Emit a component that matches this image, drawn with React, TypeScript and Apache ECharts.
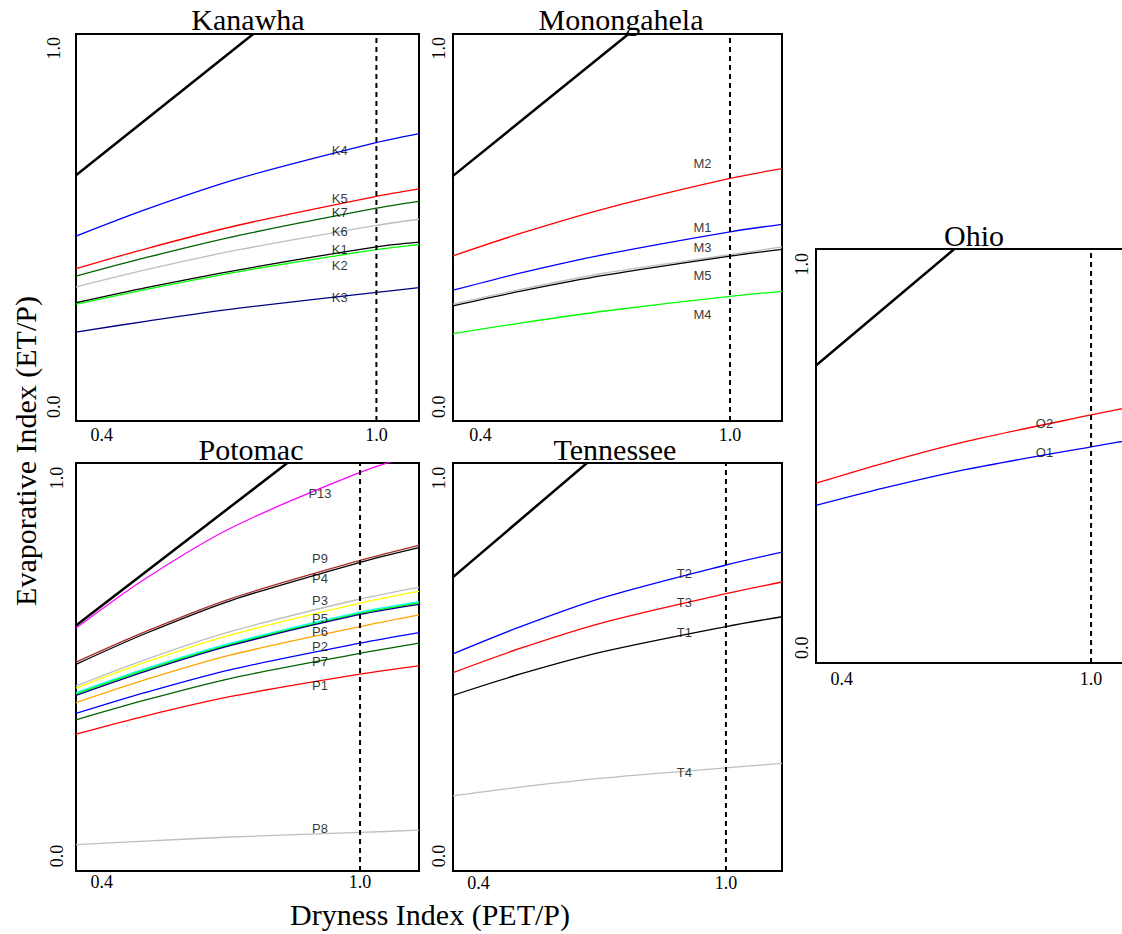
import React, { useEffect, useRef } from "react";
import * as echarts from "echarts";

// ---------- data ----------
const PANEL_TITLES = ["Kanawha", "Monongahela", "Ohio", "Potomac", "Tennessee"];
const X_TICKS = [0.4, 1.0];
const Y_TICKS = [0.0, 1.0];
const Y_MIN = -0.04;
const Y_MAX = 1.04;
const DASH_X = 1.0;
const X_AXIS_RANGES = [
  [0.344, 1.093],
  [0.334, 1.125],
  [0.338, 1.125],
  [0.34, 1.137],
  [0.338, 1.136],
];

// energy-limit line (start, crossing of the upper frame)
const LIMIT_LINES = [
  [[0.344, 0.646], [0.731, 1.04]],
  [[0.334, 0.644], [0.756, 1.04]],
  [[0.338, 0.736], [0.671, 1.04]],
  [[0.34, 0.61], [0.831, 1.04]],
  [[0.338, 0.738], [0.663, 1.04]],
];

// Kanawha
const kanawhaX = [0.344, 0.5, 0.7, 1.0, 1.093];
const kanawhaNames = ["K4", "K5", "K7", "K6", "K1", "K2", "K3"];
const kanawhaY = [
  [0.476, 0.552, 0.637, 0.737, 0.762],
  [0.385, 0.442, 0.507, 0.587, 0.608],
  [0.364, 0.417, 0.478, 0.554, 0.573],
  [0.334, 0.383, 0.438, 0.506, 0.523],
  [0.29, 0.333, 0.382, 0.446, 0.459],
  [0.286, 0.328, 0.377, 0.438, 0.452],
  [0.208, 0.239, 0.275, 0.319, 0.332],
];
const kanawhaLabelX = 0.92;
const kanawhaLabelY = [0.716, 0.582, 0.542, 0.489, 0.438, 0.395, 0.306];

// Monongahela
const monoX = [0.334, 0.5, 0.7, 1.0, 1.125];
const monoNames = ["M2", "M1", "M3", "M5", "M4"];
const monoY = [
  [0.421, 0.485, 0.553, 0.637, 0.664],
  [0.325, 0.374, 0.425, 0.488, 0.509],
  [0.286, 0.328, 0.373, 0.424, 0.446],
  [0.281, 0.323, 0.367, 0.42, 0.439],
  [0.204, 0.234, 0.267, 0.308, 0.322],
];
const monoLabelX = 0.934;
const monoLabelY = [0.678, 0.5, 0.444, 0.366, 0.258];

// Ohio
const ohioX = [0.338, 0.5, 0.7, 1.0, 1.125];
const ohioNames = ["O2", "O1"];
const ohioY = [
  [0.429, 0.481, 0.538, 0.607, 0.634],
  [0.371, 0.416, 0.465, 0.524, 0.547],
];
const ohioLabelX = 0.888;
const ohioLabelY = [0.585, 0.51];

// Potomac
const potomacX = [0.34, 0.5, 0.7, 1.0, 1.137];
const potomacNames = ["P13", "P9", "P4", "P3", "P10", "P5", "P11", "P12", "P6", "P2", "P7", "P1", "P8"];
const potomacY = [
  [0.603, 0.733, 0.868, 1.015, 1.066],
  [0.513, 0.593, 0.681, 0.782, 0.822],
  [0.507, 0.588, 0.676, 0.777, 0.816],
  [0.45, 0.519, 0.594, 0.68, 0.711],
  [0.444, 0.512, 0.585, 0.669, 0.7],
  [0.432, 0.495, 0.563, 0.645, 0.673],
  [0.429, 0.492, 0.56, 0.642, 0.67],
  [0.425, 0.488, 0.557, 0.639, 0.666],
  [0.406, 0.466, 0.532, 0.607, 0.638],
  [0.377, 0.432, 0.493, 0.563, 0.591],
  [0.36, 0.412, 0.47, 0.536, 0.563],
  [0.322, 0.37, 0.422, 0.481, 0.503],
  [0.03, 0.039, 0.05, 0.062, 0.068],
];
const potomacLabelX = 0.907;
const potomacLabelNames = ["P13", "P9", "P4", "P3", "P5", "P6", "P2", "P7", "P1", "P8"];
const potomacLabelY = [0.959, 0.786, 0.733, 0.675, 0.629, 0.594, 0.554, 0.514, 0.452, 0.072];

// Tennessee
const tennX = [0.338, 0.5, 0.7, 1.0, 1.136];
const tennNames = ["T2", "T3", "T1", "T4"];
const tennY = [
  [0.535, 0.606, 0.683, 0.77, 0.804],
  [0.485, 0.549, 0.617, 0.694, 0.725],
  [0.425, 0.481, 0.54, 0.607, 0.633],
  [0.159, 0.182, 0.206, 0.233, 0.245],
];
const tennLabelX = 0.899;
const tennLabelY = [0.748, 0.672, 0.591, 0.221];

// ---------- styles ----------
const kanawhaColors = ["#0000ff", "#ff0000", "#006400", "#bebebe", "#000000", "#00ff00", "#000080"];
const monoColors = ["#ff0000", "#0000ff", "#bebebe", "#000000", "#00ff00"];
const ohioColors = ["#ff0000", "#0000ff"];
const potomacColors = [
  "#ff00ff", "#a52a2a", "#000000", "#bebebe", "#ffff00", "#00ffff", "#00ff00",
  "#00008b", "#ffa500", "#0000ff", "#006400", "#ff0000", "#bebebe",
];
const tennColors = ["#0000ff", "#ff0000", "#000000", "#bebebe"];

const GRIDS = [
  { left: 76, top: 34, width: 343, height: 387 },
  { left: 453, top: 34, width: 329, height: 387 },
  { left: 816, top: 249, width: 327, height: 414 },
  { left: 76, top: 463, width: 343, height: 408 },
  { left: 453, top: 463, width: 329, height: 408 },
];
const TITLE_POS = [
  [248, 19],
  [621, 19],
  [974, 235],
  [251, 449],
  [615, 449],
];
const Y_LABEL_MARGIN = [13, 5, 5, 10, 5];
const X_LABEL_MARGIN = [5, 5, 7, 2, 3];

const SERIF = '"Liberation Serif", "Times New Roman", serif';
const SANS = '"Liberation Sans", Arial, Helvetica, sans-serif';

const PANELS = [
  { x: kanawhaX, names: kanawhaNames, ys: kanawhaY, colors: kanawhaColors, labelX: kanawhaLabelX, labelNames: kanawhaNames, labelY: kanawhaLabelY },
  { x: monoX, names: monoNames, ys: monoY, colors: monoColors, labelX: monoLabelX, labelNames: monoNames, labelY: monoLabelY },
  { x: ohioX, names: ohioNames, ys: ohioY, colors: ohioColors, labelX: ohioLabelX, labelNames: ohioNames, labelY: ohioLabelY },
  { x: potomacX, names: potomacNames, ys: potomacY, colors: potomacColors, labelX: potomacLabelX, labelNames: potomacLabelNames, labelY: potomacLabelY },
  { x: tennX, names: tennNames, ys: tennY, colors: tennColors, labelX: tennLabelX, labelNames: tennNames, labelY: tennLabelY },
];

function buildOption() {
  const grid = GRIDS.map((g) => ({
    ...g,
    show: true,
    borderColor: "#000",
    borderWidth: 2,
    backgroundColor: "transparent",
    containLabel: false,
    outerBoundsMode: "none",
  }));
  const xAxis = X_AXIS_RANGES.map((r, i) => ({
    type: "value",
    gridIndex: i,
    min: r[0],
    max: r[1],
    axisLine: { show: false },
    axisTick: { show: false },
    splitLine: { show: false },
    axisLabel: {
      customValues: X_TICKS,
      formatter: (v: number) => v.toFixed(1),
      fontFamily: SERIF,
      fontSize: 18,
      color: "#000",
      margin: X_LABEL_MARGIN[i],
      showMinLabel: true,
      showMaxLabel: true,
    },
  }));
  const yAxis = GRIDS.map((_, i) => ({
    type: "value",
    gridIndex: i,
    min: Y_MIN,
    max: Y_MAX,
    axisLine: { show: false },
    axisTick: { show: false },
    splitLine: { show: false },
    axisLabel: {
      customValues: Y_TICKS,
      formatter: (v: number) => v.toFixed(1),
      fontFamily: SERIF,
      fontSize: 18,
      color: "#000",
      rotate: 90,
      margin: Y_LABEL_MARGIN[i],
    },
  }));

  const series: any[] = [];
  PANELS.forEach((p, i) => {
    p.ys.forEach((ys, k) => {
      series.push({
        type: "line",
        name: p.names[k],
        xAxisIndex: i,
        yAxisIndex: i,
        data: p.x.map((x, j) => [x, ys[j]]),
        smooth: 0.3,
        symbol: "none",
        clip: true,
        lineStyle: { color: p.colors[k], width: 1.3 },
        z: 2,
      });
    });
    series.push({
      type: "line",
      xAxisIndex: i,
      yAxisIndex: i,
      data: LIMIT_LINES[i],
      symbol: "none",
      clip: true,
      lineStyle: { color: "#000", width: 2.5 },
      z: 3,
    });
    series.push({
      type: "line",
      xAxisIndex: i,
      yAxisIndex: i,
      data: [
        [DASH_X, Y_MIN],
        [DASH_X, Y_MAX],
      ],
      symbol: "none",
      lineStyle: { color: "#000", width: 2, type: [5, 4] },
      z: 3,
    });
    series.push({
      type: "scatter",
      xAxisIndex: i,
      yAxisIndex: i,
      symbolSize: 1,
      itemStyle: { color: "rgba(0,0,0,0)" },
      data: p.labelNames.map((n, k) => ({ name: n, value: [p.labelX, p.labelY[k]] })),
      label: {
        show: true,
        position: "inside",
        formatter: (d: any) => d.name,
        fontFamily: SANS,
        fontSize: 13,
        lineHeight: 12,
        color: "#000",
      },
      z: 5,
    });
  });

  const graphic: any[] = PANEL_TITLES.map((t, i) => ({
    type: "text",
    x: TITLE_POS[i][0],
    y: TITLE_POS[i][1],
    style: {
      text: t,
      font: `30px ${SERIF}`,
      fill: "#000",
      align: "center",
      verticalAlign: "middle",
    },
  }));
  graphic.push({
    type: "text",
    x: 430,
    y: 914,
    style: {
      text: "Dryness Index (PET/P)",
      font: `30px ${SERIF}`,
      fill: "#000",
      align: "center",
      verticalAlign: "middle",
    },
  });
  graphic.push({
    type: "text",
    x: 25,
    y: 451,
    rotation: Math.PI / 2,
    style: {
      text: "Evaporative Index (ET/P)",
      font: `30px ${SERIF}`,
      fill: "#000",
      align: "center",
      verticalAlign: "middle",
    },
  });

  return {
    animation: false,
    backgroundColor: "#fff",
    grid,
    xAxis,
    yAxis,
    series,
    graphic,
  };
}

export default function App() {
  const ref = useRef<HTMLDivElement>(null);
  useEffect(() => {
    if (!ref.current) return;
    const chart = echarts.init(ref.current, undefined, { renderer: "svg" });
    chart.setOption(buildOption() as any);
    return () => chart.dispose();
  }, []);
  return (
    <div
      ref={ref}
      style={{ position: "absolute", left: 0, top: 0, width: 1122, height: 934, background: "#fff" }}
    />
  );
}
